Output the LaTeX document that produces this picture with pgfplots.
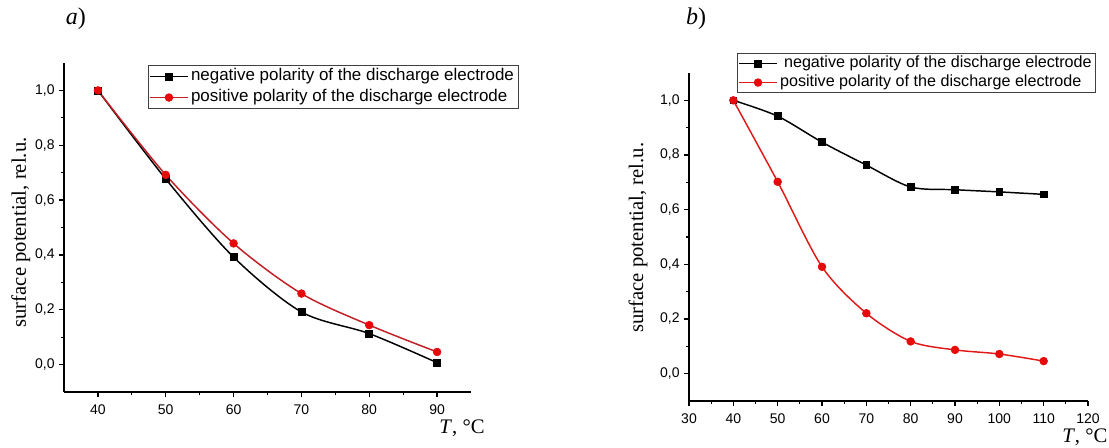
\documentclass[border=0pt]{standalone}
\usepackage{fontspec}
\setmainfont{Liberation Sans}
\newfontfamily\timesfont{Liberation Serif}
\usepackage{pgfplots}
\pgfplotsset{compat=1.18}
\definecolor{mred}{RGB}{230,10,10}
\definecolor{lred}{RGB}{195,30,35}
\definecolor{rred}{RGB}{225,25,25}

\pgfplotsset{
  panel/.style={
    scale only axis,
    axis lines=left,
    axis line style={-, line width=1.1pt},
    tick align=outside,
    major tick length=3.5pt,
    minor tick length=2pt,
    tick style={black, line width=0.9pt},
    ymin=-0.1, ymax=1.1,
    ytick={0,0.2,0.4,0.6,0.8,1},
    minor y tick num=1,
    minor x tick num=1,
    ticklabel style={font=\fontsize{10.5}{12}\selectfont},
    /pgf/number format/assume math mode=true,
    yticklabel style={/pgf/number format/.cd, fixed, fixed zerofill, precision=1, use comma},
    xticklabel style={yshift=-2.5pt, /pgf/number format/.cd, fixed, precision=0},
    xlabel={{\timesfont\itshape T\/}{\timesfont, °C}},
    ylabel={\timesfont surface potential, rel.u.},
    label style={font=\fontsize{15.5}{18}\selectfont},
    title style={font=\fontsize{18}{20}\selectfont, anchor=center},
    legend cell align=left,
    legend image code/.code={\draw[mark repeat=2,mark phase=2,##1] plot coordinates {(0pt,0pt) (14pt,0pt) (28pt,0pt)};},
    clip=false,
  },
  negp/.style={black, line width=1.1pt, smooth, tension=0.5, mark=square*, mark size=2.6pt, mark options={solid, fill=black, line width=0.5pt}},
  posp/.style={line width=1.1pt, smooth, tension=0.5, mark=*, mark size=2.9pt, mark options={solid, fill=mred, draw=mred, line width=0.5pt}},
}

\begin{document}
\begin{tikzpicture}
\useasboundingbox (0,0) rectangle (831.75pt,335.25pt);

% ---------- panel a ----------
\begin{axis}[panel,
  at={(48pt,41.25pt)}, anchor=south west,
  width=305.25pt, height=246.75pt,
  xmin=35, xmax=95,
  xtick={40,50,60,70,80,90},
  xlabel style={at={(axis description cs:0.978,-0.109)}, anchor=center},
  ylabel style={at={(axis description cs:-0.106,0.485)}, anchor=center},
  title={{\timesfont\itshape a\/}{\timesfont )}},
  title style={at={(axis description cs:0.029,1.109)}},
  legend style={at={(axis description cs:0.206,0.994)}, anchor=north west,
    font=\fontsize{12.7}{14}\selectfont, draw=black!75, line width=0.6pt,
    inner xsep=1pt, inner ysep=0.5pt,
    nodes={inner xsep=2pt, inner ysep=1.5pt, text height=9.5pt, text depth=3.25pt}},
]
\addplot[negp] coordinates {(40,1.0) (50,0.677) (60,0.392) (70,0.192) (80,0.113) (90,0.007)};
\addlegendentry{negative polarity of the discharge electrode}
\addplot[posp, lred] coordinates {(40,1.0) (50,0.692) (60,0.442) (70,0.259) (80,0.144) (90,0.046)};
\addlegendentry{positive polarity of the discharge electrode}
\end{axis}

% ---------- panel b ----------
\begin{axis}[panel,
  at={(516.75pt,34.5pt)}, anchor=south west,
  width=299.25pt, height=246pt,
  xmin=30, xmax=120,
  xtick={30,40,50,60,70,80,90,100,110,120},
  xlabel style={at={(axis description cs:0.992,-0.110)}, anchor=center},
  ylabel style={at={(axis description cs:-0.128,0.498)}, anchor=center},
  title={{\timesfont\itshape b\/}{\timesfont )}},
  title style={at={(axis description cs:0.018,1.140)}},
  legend style={at={(axis description cs:0.120,1.061)}, anchor=north west,
    font=\fontsize{12.1}{14}\selectfont, draw=black!75, line width=0.6pt,
    inner xsep=1pt, inner ysep=0.5pt,
    nodes={inner xsep=2pt, inner ysep=1.25pt, text height=9pt, text depth=2.75pt}},
]
\addplot[negp] coordinates {(40,1.0) (50,0.942) (60,0.847) (70,0.763) (80,0.683) (90,0.673) (100,0.665) (110,0.656)};
\addlegendentry{\hspace{3pt}negative polarity of the discharge electrode}
\addplot[posp, rred] coordinates {(40,1.0) (50,0.702) (60,0.391) (70,0.221) (80,0.118) (90,0.087) (100,0.072) (110,0.046)};
\addlegendentry{positive polarity of the discharge electrode}
\end{axis}
\end{tikzpicture}
\end{document}
